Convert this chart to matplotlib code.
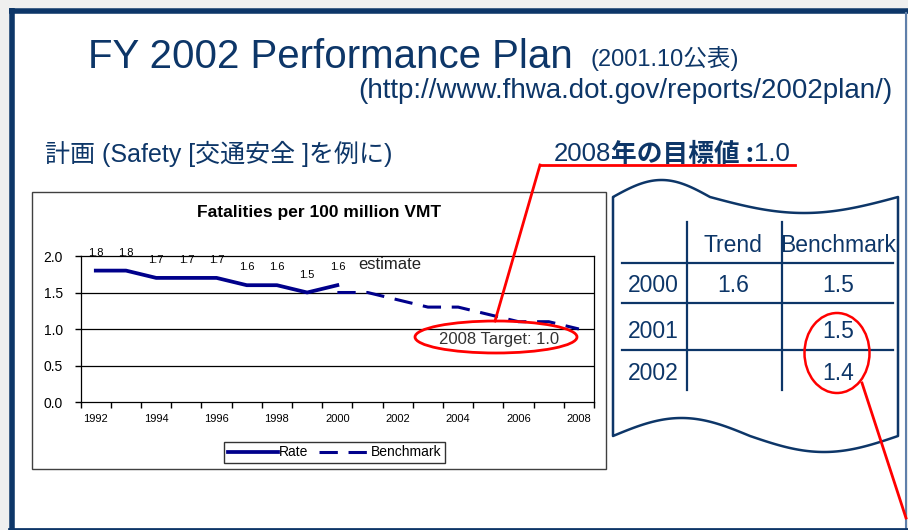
import numpy as np
import matplotlib
matplotlib.use("Agg")
import matplotlib.pyplot as plt
from matplotlib.patches import Rectangle, Ellipse, Polygon
from matplotlib.lines import Line2D

plt.rcParams['font.family'] = ['Liberation Sans', 'Noto Sans CJK JP', 'DejaVu Sans']

# ---------------- data ----------------
years = list(range(1992, 2009))
rate_years = [1992, 1993, 1994, 1995, 1996, 1997, 1998, 1999, 2000]
rate_values = [1.8, 1.8, 1.7, 1.7, 1.7, 1.6, 1.6, 1.5, 1.6]
bench_years = [2000, 2001, 2002, 2003, 2004, 2005, 2006, 2007, 2008]
bench_values = [1.5, 1.5, 1.4, 1.3, 1.3, 1.2, 1.1, 1.1, 1.0]
x_tick_labels = ['1992', '1994', '1996', '1998', '2000', '2002', '2004', '2006', '2008']
y_ticks = [0.0, 0.5, 1.0, 1.5, 2.0]

table_header = ['Trend', 'Benchmark']
table_rows = ['2000', '2001', '2002']
table_trend = ['1.6', '', '']
table_bench = ['1.5', '1.5', '1.4']

NAVY = '#0D3668'
LINE_BLUE = '#00008B'
RED = '#FF0000'

W, H = 908, 530
fig = plt.figure(figsize=(W / 100, H / 100), dpi=100)
fig.patch.set_facecolor('#EFEFEF')

# background overlay in pixel coordinates
bg = fig.add_axes([0, 0, 1, 1], zorder=0)
bg.set_xlim(0, W)
bg.set_ylim(H, 0)
bg.axis('off')

# slide frame
bg.add_patch(Rectangle((9, 8), 897, 530, facecolor='white', edgecolor='none'))
bg.plot([11.5, 11.5], [8, 530], color=NAVY, lw=4, solid_capstyle='butt')
bg.plot([9, 908], [10.5, 10.5], color=NAVY, lw=4, solid_capstyle='butt')
bg.plot([906, 906], [13, 530], color='#5F7FAA', lw=1.5)
bg.plot([9, 908], [529, 529], color=NAVY, lw=2)

# headings
bg.text(88, 68, 'FY 2002 Performance Plan', fontsize=29, color=NAVY, va='baseline', ha='left')
bg.text(590, 66, '(2001.10公表)', fontsize=17, color=NAVY, va='baseline', ha='left')
bg.text(893, 98, '(http://www.fhwa.dot.gov/reports/2002plan/)', fontsize=20, color=NAVY,
        va='baseline', ha='right')
bg.text(45, 154, '計画 (Safety [交通安全 ]を例に)', fontsize=18, color=NAVY, va='center', ha='left')
bg.text(611, 154, '2008', fontsize=18.5, color=NAVY, va='center', ha='right')
bg.text(611, 154, '年の目標値 :', fontsize=18.5, color=NAVY, va='center', ha='left',
        fontweight='bold', family=['Noto Sans CJK JP', 'Liberation Sans'])
bg.text(790, 154, '1.0', fontsize=18.5, color=NAVY, va='center', ha='right')

# chart box
bg.add_patch(Rectangle((32, 192), 574, 277, facecolor='white', edgecolor='#404040', lw=1))
bg.text(319.5, 212, 'Fatalities per 100 million VMT', fontsize=12.5, fontweight='bold',
        color='black', ha='center', va='center')

# table shape (punched-tape style)
def wave(x0, x1, xm, y0, up, down, n=80):
    xa = np.linspace(x0, xm, n)
    ya = y0 - up * np.sin(np.pi * (xa - x0) / (xm - x0))
    xb = np.linspace(xm, x1, n)[1:]
    yb = y0 + down * np.sin(np.pi * (xb - xm) / (x1 - xm))
    return np.concatenate([xa, xb]), np.concatenate([ya, yb])

tx, ty = wave(613, 898, 710, 197, 17, 16)
bx, by = wave(613, 898, 750, 436, 18, 16)
pts = np.vstack([np.column_stack([tx, ty]), np.column_stack([bx[::-1], by[::-1]])])
bg.add_patch(Polygon(pts, closed=True, facecolor='white', edgecolor=NAVY, lw=1.8, joinstyle='round'))

# table grid
for xv in [687, 782]:
    bg.plot([xv, xv], [222, 390], color=NAVY, lw=1.6)
for yv in [263, 303, 350]:
    bg.plot([622, 893], [yv, yv], color=NAVY, lw=1.6)
col_x = [653, 733, 838]
row_y = [286, 332, 373]
bg.text(col_x[1], 246, table_header[0], fontsize=16.5, color=NAVY, ha='center', va='center')
bg.text(col_x[2], 246, table_header[1], fontsize=16.5, color=NAVY, ha='center', va='center')
for r, ry in enumerate(row_y):
    bg.text(col_x[0], ry, table_rows[r], fontsize=16.5, color=NAVY, ha='center', va='center')
    if table_trend[r]:
        bg.text(col_x[1], ry, table_trend[r], fontsize=16.5, color=NAVY, ha='center', va='center')
    bg.text(col_x[2], ry, table_bench[r], fontsize=16.5, color=NAVY, ha='center', va='center')

# ---------------- chart ----------------
pl, pr, pt, pb = 80.7, 594.0, 256.0, 402.0
ax = fig.add_axes([pl / W, 1 - pb / H, (pr - pl) / W, (pb - pt) / H], zorder=1)
ax.set_facecolor('white')
idx = {y: i for i, y in enumerate(years)}
rx = [idx[y] for y in rate_years]
bxv = [idx[y] for y in bench_years]
ax.plot(bxv, bench_values, color=LINE_BLUE, lw=2.2, dashes=(6, 3.5), solid_capstyle='butt',
        label='Benchmark', zorder=3)
ax.plot(rx, rate_values, color=LINE_BLUE, lw=2.7, solid_joinstyle='round', label='Rate', zorder=4)
for xv, v in zip(rx, rate_values):
    ax.annotate(f'{v:.1f}', (xv, v), xytext=(0, 18), textcoords='offset pixels',
                ha='center', va='center', fontsize=8, color='black', annotation_clip=False)
ax.set_xlim(-0.5, len(years) - 0.5)
ax.set_ylim(0, 2.0)
ax.set_yticks(y_ticks)
ax.set_yticklabels([f'{v:.1f}' for v in y_ticks], fontsize=10)
ax.set_xticks([idx[int(t)] for t in x_tick_labels])
ax.set_xticklabels(x_tick_labels, fontsize=8)
ax.tick_params(axis='x', length=0, pad=9)
ax.set_xticks(np.arange(-0.5, len(years), 1.0), minor=True)
ax.tick_params(axis='x', which='minor', length=4, width=1, direction='out')
ax.tick_params(axis='y', length=4, width=1, direction='out', pad=9)
for yv in [0.5, 1.0, 1.5]:
    ax.axhline(yv, color='black', lw=0.9, zorder=1)
for s in ax.spines.values():
    s.set_color('black')
    s.set_linewidth(0.9)
ax.text(9.74, 1.877, 'estimate', fontsize=12, color='#222222', ha='center', va='center')
ax.text(13.35, 0.863, '2008 Target: 1.0', fontsize=12, color='#333333', ha='center', va='center')

handles = [Line2D([], [], color=LINE_BLUE, lw=2.7),
           Line2D([], [], color=LINE_BLUE, lw=2.2, dashes=(6, 3.5))]
leg = ax.legend(handles, ['Rate', 'Benchmark'], ncol=2, loc='center',
                bbox_to_anchor=(334.5 / W, 1 - 452.5 / H), bbox_transform=fig.transFigure,
                frameon=True, fancybox=False, edgecolor='black', fontsize=10,
                handlelength=3.6, handletextpad=0.1, columnspacing=0.8, borderpad=0.25,
                borderaxespad=0)
leg.get_frame().set_linewidth(1.0)

# ---------------- top overlay (red marks) ----------------
top = fig.add_axes([0, 0, 1, 1], zorder=3)
top.set_xlim(0, W)
top.set_ylim(H, 0)
top.axis('off')
top.patch.set_alpha(0)
top.plot([540, 795], [165, 165], color=RED, lw=2)
top.plot([540, 495], [165, 321], color=RED, lw=2)
top.add_patch(Ellipse((496, 337), 162, 32, facecolor='none', edgecolor=RED, lw=2))
top.add_patch(Ellipse((837, 353), 65, 80, facecolor='none', edgecolor=RED, lw=1.8))
top.plot([862, 906], [383, 518], color=RED, lw=2)

fig.savefig('out.png', dpi=100, facecolor=fig.get_facecolor())
